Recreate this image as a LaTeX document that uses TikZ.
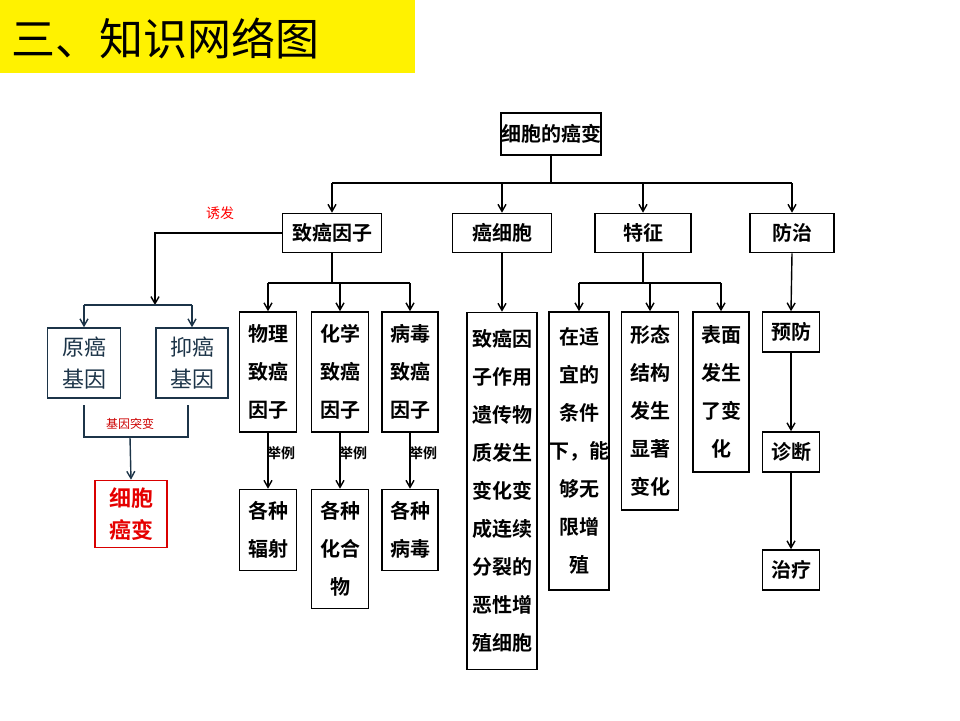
\documentclass[tikz,border=0pt]{standalone}
\usepackage{fontspec}
\newfontfamily\cjk{Noto Sans CJK SC}
\newfontfamily\cjkb{Noto Sans CJK SC Bold}
\usetikzlibrary{arrows.meta}
\definecolor{dblue}{HTML}{1C3448}
\begin{document}
\begin{tikzpicture}[x=1pt,y=-1pt,
 bx/.style={draw,line width=1.6pt,inner sep=0pt,align=center,font=\cjkb\fontsize{20}{38}\selectfont},
 ln/.style={line width=1.4pt},
 ar/.style={line width=1.4pt,-{Straight Barb[length=7pt,width=8pt]}},
 lb/.style={font=\cjk\fontsize{14}{16}\selectfont,inner sep=1pt}]
\useasboundingbox (0,0) rectangle (960,720);
\fill[yellow] (0,0) rectangle (415,73);
\node[font=\cjk\fontsize{44}{48}\selectfont,anchor=west] (title) at (8,38) {三、知识网络图};
% top
\node[bx,minimum width=100pt,minimum height=42pt] (root) at (551,134) {细胞的癌变};
\node[bx,minimum width=99pt,minimum height=39pt] (a) at (332,233) {致癌因子};
\node[bx,minimum width=99pt,minimum height=39pt] (b) at (502,233) {癌细胞};
\node[bx,minimum width=96pt,minimum height=39pt] (c) at (643,233) {特征};
\node[bx,minimum width=84pt,minimum height=39pt] (d) at (792,233) {防治};
\coordinate (r1) at (551,183);
\draw[ln] (root.south) -- (r1);
\draw[ln] (332,183) -- (792,183);
\foreach \n in {a,b,c,d} \draw[ar] (\n.north|-r1) -- (\n.north);
% left branch
\coordinate (lt) at (155,233);
\coordinate (lj) at (155,305);
\draw[ar] (a.west) -- (lt) -- (lj);
\node[lb,text=red] (yf) at (220,213) {诱发};
\node[draw=dblue,line width=1.6pt,minimum width=73pt,minimum height=70pt,align=center,text=dblue,font=\fontsize{22}{32}\selectfont\cjk] (g1) at (84,363) {原癌\\基因};
\node[draw=dblue,line width=1.6pt,minimum width=72pt,minimum height=70pt,align=center,text=dblue,font=\fontsize{22}{32}\selectfont\cjk] (g2) at (192,363) {抑癌\\基因};
\draw[ln,dblue] (84,305) -- (192,305);
\draw[ar,dblue] (84,305) -- (g1.north);
\draw[ar,dblue] (192,305) -- (g2.north);
\draw[ln,dblue] (84,405) -- (84,437) -- (188,437) -- (188,405);
\node[lb,text=red!80!black,font=\cjk\fontsize{12}{14}\selectfont] (tb) at (130,424) {基因突变};
\node[draw=red!85!black,line width=1.6pt,minimum width=72pt,minimum height=67pt,align=center,text=red!90!black,font=\fontsize{22}{32}\selectfont\cjkb] (ca) at (131,514) {细胞\\癌变};
\draw[ar,dblue] (130,437) -- (ca.north);
% 致癌因子 children
\coordinate (aj) at (332,283);
\draw[ln] (a.south) -- (aj);
\draw[ln] (268,283) -- (410,283);
\node[bx,minimum width=57pt,minimum height=120pt] (p1) at (268,372) {物理\\致癌\\因子};
\node[bx,minimum width=57pt,minimum height=120pt] (p2) at (340,372) {化学\\致癌\\因子};
\node[bx,minimum width=56pt,minimum height=120pt] (p3) at (410,372) {病毒\\致癌\\因子};
\foreach \n in {p1,p2,p3} \draw[ar] (\n.north|-aj) -- (\n.north);
\node[bx,minimum width=57pt,minimum height=81pt] (q1) at (268,530) {各种\\辐射};
\node[bx,minimum width=57pt,minimum height=119pt] (q2) at (340,549) {各种\\化合\\物};
\node[bx,minimum width=56pt,minimum height=81pt] (q3) at (410,530) {各种\\病毒};
\foreach \i in {1,2,3} {
 \draw[ar] (p\i.south) -- (q\i.north|-q\i.north);
 \node[lb,anchor=west,font=\cjkb\fontsize{14}{16}\selectfont] (e\i) at ([xshift=-2pt,yshift=-20pt]p\i.south) {举例};
}
% 癌细胞 child
\node[bx,minimum width=70pt,minimum height=357pt] (b1) at (502,491) {致癌因\\子作用\\遗传物\\质发生\\变化变\\成连续\\分裂的\\恶性增\\殖细胞};
\draw[ar] (b.south) -- (b1.north);
% 特征 children
\coordinate (cj) at (643,283);
\draw[ln] (c.south) -- (cj);
\draw[ln] (579,283) -- (721,283);
\node[bx,minimum width=57pt,minimum height=278pt] (c1) at (579,451) {在适\\宜的\\条件\\下，能\\够无\\限增\\殖};
\node[bx,minimum width=57pt,minimum height=198pt] (c2) at (650,411) {形态\\结构\\发生\\显著\\变化};
\node[bx,minimum width=56pt,minimum height=160pt] (c3) at (721,392) {表面\\发生\\了变\\化};
\foreach \n in {c1,c2,c3} \draw[ar] (\n.north|-cj) -- (\n.north);
% 防治
\node[bx,minimum width=57pt,minimum height=40pt] (d1) at (791,332) {预防};
\node[bx,minimum width=57pt,minimum height=40pt] (d2) at (791,452) {诊断};
\node[bx,minimum width=57pt,minimum height=40pt] (d3) at (791,570) {治疗};
\draw[ar] (d.south) -- (d1.north);
\draw[ar] (d1.south) -- (d2.north);
\draw[ar] (d2.south) -- (d3.north);
\end{tikzpicture}
\end{document}
